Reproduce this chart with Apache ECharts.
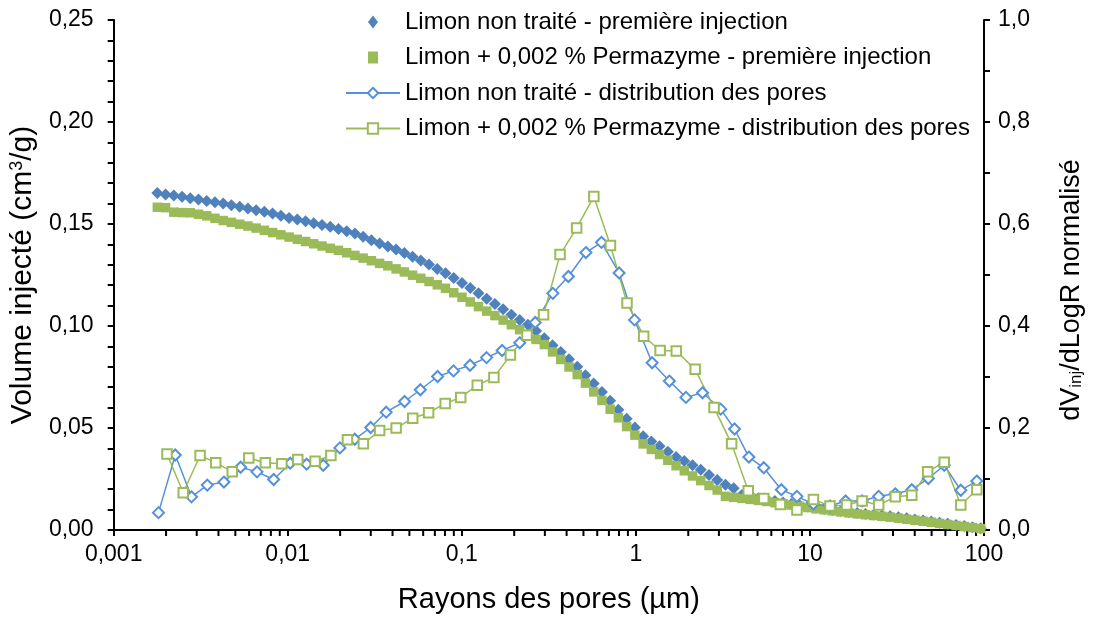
<!DOCTYPE html>
<html>
<head>
<meta charset="utf-8">
<script src="https://cdn.jsdelivr.net/npm/echarts@6/dist/echarts.min.js"></script>
<style>
  html, body { margin: 0; padding: 0; background: #ffffff; }
  #chart { width: 1093px; height: 619px; }
</style>
</head>
<body>
<div id="chart"></div>
<script>
// Pore radii (µm) of the mercury injection steps
const cumRadius = [
  0.001782, 0.001987, 0.002216, 0.002471, 0.002755, 0.003071, 0.003424, 0.003818, 0.004257, 0.004746,
  0.005297, 0.005906, 0.006584, 0.007341, 0.008185, 0.009130, 0.01018, 0.01135, 0.01266, 0.01411,
  0.01574, 0.01755, 0.01956, 0.02181, 0.02432, 0.02712, 0.03024, 0.03372, 0.03760, 0.04192,
  0.04677, 0.05215, 0.05814, 0.06482, 0.07228, 0.08060, 0.08989, 0.1003, 0.1118, 0.1247,
  0.1390, 0.1550, 0.1728, 0.1927, 0.2149, 0.2396, 0.2671, 0.2979, 0.3321, 0.3703,
  0.4130, 0.4604, 0.5134, 0.5725, 0.6384, 0.7117, 0.7937, 0.8850, 0.9872, 1.101,
  1.227, 1.368, 1.526, 1.702, 1.897, 2.116, 2.359, 2.631, 2.933, 3.271,
  3.648, 4.068, 4.535, 5.057, 5.639, 6.287, 7.011, 7.817, 8.717, 9.721,
  10.84, 12.08, 13.48, 15.03, 16.76, 18.69, 20.84, 23.23, 25.91, 28.89,
  32.21, 35.92, 40.05, 44.66, 49.80, 55.53, 61.92, 69.04, 76.98, 85.84,
  95.72
];

// Cumulative injected volume (cm3/g), untreated silt
const untreatedCumulative = [
  0.1652, 0.1645, 0.1640, 0.1633, 0.1626, 0.1620, 0.1613, 0.1607, 0.1600, 0.1592,
  0.1584, 0.1576, 0.1568, 0.1560, 0.1551, 0.1541, 0.1530, 0.1522, 0.1513, 0.1504,
  0.1495, 0.1486, 0.1476, 0.1465, 0.1454, 0.1438, 0.1420, 0.1405, 0.1390, 0.1375,
  0.1358, 0.1340, 0.1321, 0.1301, 0.1280, 0.1258, 0.1235, 0.1211, 0.1186, 0.1160,
  0.1134, 0.1108, 0.1082, 0.1055, 0.1030, 0.1006, 0.0975, 0.0940, 0.0906, 0.0872,
  0.0837, 0.0800, 0.0759, 0.0718, 0.0676, 0.0634, 0.0589, 0.0545, 0.0502, 0.0460,
  0.0434, 0.0410, 0.0383, 0.0358, 0.0338, 0.0318, 0.0295, 0.0270, 0.0245, 0.0222,
  0.0205, 0.0172, 0.0163, 0.0156, 0.0149, 0.0142, 0.0135, 0.0128, 0.0121, 0.0115,
  0.0109, 0.0103, 0.0098, 0.0093, 0.0088, 0.0083, 0.0079, 0.0075, 0.0071, 0.0067,
  0.0062, 0.0057, 0.0052, 0.0047, 0.0042, 0.0036, 0.0031, 0.0025, 0.0019, 0.0014,
  0.0009
];

// Cumulative injected volume (cm3/g), silt + 0.002 % Permazyme
const treatedCumulative = [
  0.1582, 0.1580, 0.1558, 0.1556, 0.1555, 0.1548, 0.1540, 0.1528, 0.1517, 0.1508,
  0.1499, 0.1490, 0.1480, 0.1469, 0.1458, 0.1447, 0.1436, 0.1425, 0.1414, 0.1403,
  0.1392, 0.1381, 0.1371, 0.1359, 0.1346, 0.1333, 0.1320, 0.1307, 0.1295, 0.1280,
  0.1265, 0.1249, 0.1234, 0.1218, 0.1202, 0.1185, 0.1163, 0.1141, 0.1118, 0.1095,
  0.1073, 0.1051, 0.1029, 0.1006, 0.0982, 0.0958, 0.0934, 0.0909, 0.0873, 0.0836,
  0.0799, 0.0762, 0.0720, 0.0677, 0.0635, 0.0592, 0.0550, 0.0507, 0.0465, 0.0422,
  0.0395, 0.0370, 0.0342, 0.0315, 0.0290, 0.0265, 0.0242, 0.0218, 0.0196, 0.0165,
  0.0160, 0.0155, 0.0150, 0.0145, 0.0140, 0.0134, 0.0128, 0.0122, 0.0116, 0.0110,
  0.0104, 0.0099, 0.0094, 0.0089, 0.0084, 0.0079, 0.0075, 0.0071, 0.0067, 0.0063,
  0.0058, 0.0053, 0.0048, 0.0043, 0.0038, 0.0032, 0.0027, 0.0022, 0.0017, 0.0012,
  0.0007
];

// Pore size distribution, untreated silt: radius (µm) and normalised dV/dlogR
const untreatedDistRadius = [
  0.00181, 0.00226, 0.00280, 0.00345, 0.00430, 0.00536, 0.00666, 0.00830, 0.01033, 0.01285,
  0.0160, 0.01994, 0.02428, 0.02997, 0.03677, 0.0469, 0.0578, 0.0726, 0.0896, 0.1115,
  0.1387, 0.1705, 0.2152, 0.2642, 0.3334, 0.4096, 0.5164, 0.6346, 0.801, 0.983,
  1.24, 1.557, 1.94, 2.415, 3.07, 3.69, 4.46, 5.43, 6.85, 8.42,
  10.47, 13.04, 16.03, 19.94, 24.83, 30.93, 38.46, 47.9, 59.1, 73.6,
  90.9
];
const untreatedDist = [
  0.034, 0.147, 0.065, 0.088, 0.094, 0.123, 0.114, 0.099, 0.131, 0.129,
  0.127, 0.161, 0.178, 0.201, 0.231, 0.252, 0.275, 0.301, 0.312, 0.323,
  0.338, 0.352, 0.367, 0.407, 0.464, 0.497, 0.544, 0.564, 0.504, 0.412,
  0.328, 0.292, 0.260, 0.269, 0.237, 0.198, 0.143, 0.122, 0.079, 0.066,
  0.051, 0.047, 0.057, 0.057, 0.066, 0.071, 0.079, 0.101, 0.127, 0.078,
  0.096
];

// Pore size distribution, silt + 0.002 % Permazyme
const treatedDistRadius = [
  0.002025, 0.00251, 0.003137, 0.003857, 0.0048, 0.005974, 0.00744, 0.00925, 0.01142, 0.01436,
  0.0177, 0.02203, 0.0272, 0.03373, 0.04195, 0.05224, 0.06448, 0.08028, 0.09856, 0.1227,
  0.1529, 0.1902, 0.2368, 0.2949, 0.3668, 0.4568, 0.5737, 0.7143, 0.8897, 1.109,
  1.378, 1.707, 2.192, 2.813, 3.549, 4.422, 5.43, 6.76, 8.42, 10.47,
  13.04, 16.24, 19.94, 24.83, 30.93, 38.46, 47.45, 59.1, 73.6, 90.9
];
const treatedDist = [
  0.149, 0.073, 0.146, 0.132, 0.114, 0.141, 0.132, 0.130, 0.138, 0.135,
  0.146, 0.177, 0.169, 0.195, 0.200, 0.219, 0.230, 0.248, 0.260, 0.284,
  0.299, 0.343, 0.382, 0.422, 0.540, 0.592, 0.654, 0.558, 0.445, 0.380,
  0.352, 0.351, 0.315, 0.240, 0.169, 0.077, 0.062, 0.050, 0.039, 0.060,
  0.047, 0.049, 0.057, 0.049, 0.065, 0.068, 0.114, 0.133, 0.049, 0.079
];

const seriesNames = [
  'Limon non traité - première injection',
  'Limon + 0,002 % Permazyme - première injection',
  'Limon non traité - distribution des pores',
  'Limon + 0,002 % Permazyme - distribution des pores'
];

// Axis tick labels
const xTickLabels = ['0,001', '0,01', '0,1', '1', '10', '100'];
const leftTickLabels = ['0,00', '0,05', '0,10', '0,15', '0,20', '0,25'];
const rightTickLabels = ['0,0', '0,2', '0,4', '0,6', '0,8', '1,0'];
// Intermediate (2..9) ticks of each decade on the log axis
const xMinorTicks = [
  0.002, 0.003, 0.004, 0.005, 0.006, 0.007, 0.008, 0.009,
  0.02, 0.03, 0.04, 0.05, 0.06, 0.07, 0.08, 0.09,
  0.2, 0.3, 0.4, 0.5, 0.6, 0.7, 0.8, 0.9,
  2, 3, 4, 5, 6, 7, 8, 9,
  20, 30, 40, 50, 60, 70, 80, 90
];

const FONT = "'Liberation Sans', Arial, sans-serif";
const BLUE = '#4f81bd';
const BLUE_LINE = '#5590d8';
const GREEN = '#9bbb59';
const AXIS_STYLE = { color: '#000', width: 2 };

const zip = (xs, ys) => xs.map((x, i) => [x, ys[i]]);

const chart = echarts.init(document.getElementById('chart'), null, { renderer: 'canvas' });

chart.setOption({
  backgroundColor: '#ffffff',
  animation: false,
  textStyle: { fontFamily: FONT, color: '#000' },
  grid: { left: 113, right: 103, top: 20, bottom: 86 },
  legend: {
    orient: 'vertical',
    left: 340,
    top: 5,
    itemWidth: 54,
    itemHeight: 13,
    itemGap: 11.5,
    selectedMode: false,
    textStyle: { fontFamily: FONT, fontSize: 24, color: '#000' },
    data: [
      { name: seriesNames[0], icon: 'path://M0,0 M54,13 M27,0 L32,6.5 L27,13 L22,6.5 Z' },
      { name: seriesNames[1], icon: 'path://M0,0 M54,13 M22,0.5 L32,0.5 L32,12.5 L22,12.5 Z' },
      { name: seriesNames[2] },
      { name: seriesNames[3] }
    ]
  },
  xAxis: {
    type: 'log',
    logBase: 10,
    min: 0.001,
    max: 100,
    splitNumber: 5,
    name: 'Rayons des pores (µm)',
    nameLocation: 'middle',
    nameGap: 55,
    nameTextStyle: { fontFamily: FONT, fontSize: 29, color: '#000' },
    axisLine: { onZero: false, lineStyle: AXIS_STYLE },
    axisTick: { show: true, inside: false, length: 6, lineStyle: AXIS_STYLE },
    axisLabel: {
      fontFamily: FONT, fontSize: 23, color: '#000', margin: 13,
      formatter: v => xTickLabels[Math.round(Math.log10(v)) + 3]
    },
    splitLine: { show: false }
  },
  yAxis: [
    {
      type: 'value',
      min: 0, max: 0.25, interval: 0.05,
      name: 'Volume injecté (cm{sup|3}/g)',
      nameLocation: 'middle',
      nameRotate: 90,
      nameGap: 72,
      nameTextStyle: {
        fontFamily: FONT, fontSize: 30, color: '#000',
        rich: { sup: { fontFamily: FONT, fontSize: 18, verticalAlign: 'top', color: '#000' } }
      },
      axisLine: { show: true, lineStyle: AXIS_STYLE },
      axisTick: { show: true, inside: false, length: 6, lineStyle: AXIS_STYLE },
      minorTick: { show: true, splitNumber: 5, length: 6, lineStyle: AXIS_STYLE },
      axisLabel: {
        fontFamily: FONT, fontSize: 23, color: '#000', margin: 20,
        formatter: v => leftTickLabels[Math.round(v / 0.05)]
      },
      splitLine: { show: false }
    },
    {
      type: 'value',
      position: 'right',
      min: 0, max: 1, interval: 0.2,
      name: 'dV{sub|inj}/dLogR normalisé',
      nameLocation: 'middle',
      nameRotate: 90,
      nameGap: 74,
      nameTextStyle: {
        fontFamily: FONT, fontSize: 27, color: '#000',
        padding: [0, 30, 0, 0],
        rich: { sub: { fontFamily: FONT, fontSize: 17, verticalAlign: 'bottom', color: '#000' } }
      },
      axisLine: { show: true, lineStyle: AXIS_STYLE },
      axisTick: { show: true, inside: false, length: 6, lineStyle: AXIS_STYLE },
      minorTick: { show: true, splitNumber: 2, length: 6, lineStyle: AXIS_STYLE },
      axisLabel: {
        fontFamily: FONT, fontSize: 23, color: '#000', margin: 14,
        formatter: v => rightTickLabels[Math.round(v / 0.2)]
      },
      splitLine: { show: false }
    }
  ],
  series: [
    {
      name: seriesNames[0],
      type: 'scatter',
      yAxisIndex: 0,
      symbol: 'diamond',
      symbolSize: 12,
      itemStyle: { color: BLUE, opacity: 1 },
      data: zip(cumRadius, untreatedCumulative)
    },
    {
      name: seriesNames[1],
      type: 'scatter',
      yAxisIndex: 0,
      symbol: 'rect',
      symbolSize: 9.5,
      itemStyle: { color: GREEN, opacity: 1 },
      data: zip(cumRadius, treatedCumulative)
    },
    {
      name: seriesNames[2],
      type: 'line',
      yAxisIndex: 1,
      symbol: 'emptyDiamond',
      symbolSize: 11,
      showAllSymbol: true,
      lineStyle: { color: BLUE_LINE, width: 1.5 },
      itemStyle: { color: BLUE_LINE, borderWidth: 1.6 },
      data: zip(untreatedDistRadius, untreatedDist)
    },
    {
      name: seriesNames[3],
      type: 'line',
      yAxisIndex: 1,
      symbol: 'emptyRect',
      symbolSize: 9.5,
      showAllSymbol: true,
      lineStyle: { color: GREEN, width: 1.5 },
      itemStyle: { color: GREEN, borderWidth: 1.6 },
      data: zip(treatedDistRadius, treatedDist)
    },
    {
      // minor ticks 2..9 of every decade under the log axis
      type: 'custom',
      yAxisIndex: 0,
      silent: true,
      clip: false,
      data: xMinorTicks.map(v => [v, 0]),
      renderItem: (params, api) => {
        const p = api.coord([api.value(0), 0]);
        return {
          type: 'line',
          shape: { x1: p[0], y1: p[1], x2: p[0], y2: p[1] + 6 },
          style: { stroke: '#000', lineWidth: 2 }
        };
      }
    }
  ]
});
</script>
</body>
</html>
